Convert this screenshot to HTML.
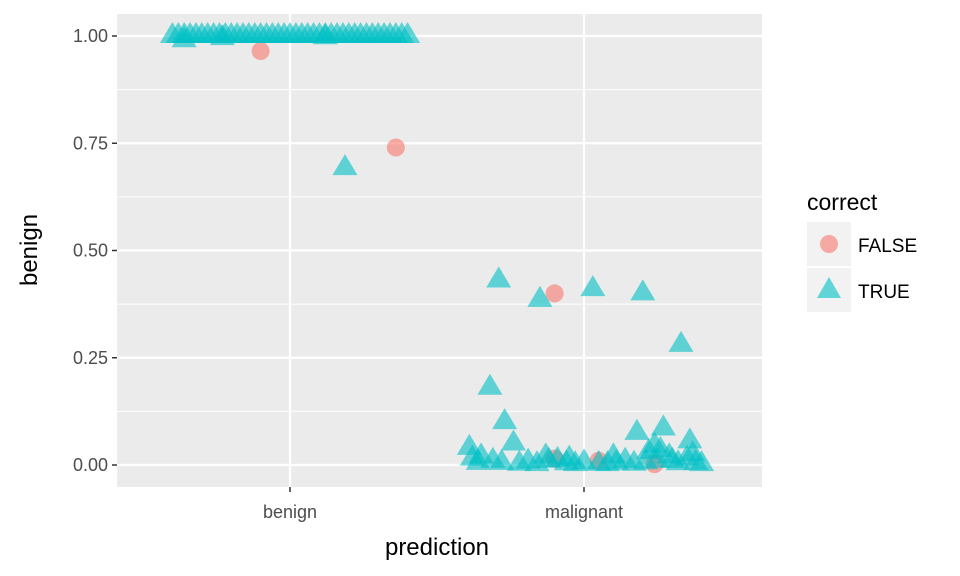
<!DOCTYPE html>
<html><head><meta charset="utf-8"><style>
body{margin:0;background:#fff}
svg{display:block;font-family:"Liberation Sans",sans-serif}
</style></head><body>
<svg id="chart" width="960" height="576" viewBox="0 0 960 576">
<rect x="117" y="14" width="645" height="473" fill="#ebebeb"/>
<g id="grid"></g>
<g id="marks"></g>
<g id="axes"></g>
<text x="437" y="555" font-size="24" text-anchor="middle" fill="#000">prediction</text>
<text transform="translate(37,250) rotate(-90)" font-size="24" text-anchor="middle" fill="#000">benign</text>
<g>
<text x="807" y="210" font-size="23" fill="#000">correct</text>
<rect x="807" y="222" width="44" height="44" fill="#f2f2f2"/>
<circle cx="829" cy="244" r="9" fill="#f8766d" fill-opacity="0.6"/>
<text x="858" y="252" font-size="19" fill="#000">FALSE</text>
<rect x="807" y="268" width="44" height="44" fill="#f2f2f2"/>
<polygon points="829,277 841,298 817,298" fill="#00bfc4" fill-opacity="0.6"/>
<text x="858" y="298" font-size="19" fill="#000">TRUE</text>
</g>
</svg>
<script>
const categories=["benign","malignant"];
const yTicks=[0,0.25,0.5,0.75,1];
const yTickLabels=["0.00","0.25","0.50","0.75","1.00"];
const benTrueX=[-0.40,-0.38,-0.36,-0.34,-0.32,-0.30,-0.28,-0.26,-0.24,-0.22,-0.20,-0.18,-0.16,-0.14,-0.12,-0.10,-0.08,-0.06,-0.04,-0.02,0.00,0.02,0.04,0.06,0.08,0.10,0.12,0.14,0.16,0.18,0.20,0.22,0.24,0.26,0.28,0.30,0.32,0.34,0.36,0.38,0.40,-0.36,-0.23,0.187,0.12];
const benTrueY=[1,1,1,1,1,1,1,1,1,1,1,1,1,1,1,1,1,1,1,1,1,1,1,1,1,1,1,1,1,1,1,1,1,1,1,1,1,1,1,1,1,0.99,0.995,0.692,0.997];
const benFalseX=[-0.10,0.36];
const benFalseY=[0.965,0.74];
const malTrueX=[-0.29,-0.15,0.03,0.20,0.33,-0.32,-0.27,-0.24,-0.39,0.18,0.27,0.36,0.24,-0.38,-0.35,-0.31,-0.28,-0.22,-0.19,-0.16,-0.12,-0.09,-0.06,-0.03,0.00,0.05,0.08,0.11,0.14,0.17,0.21,0.25,0.29,0.32,0.35,0.38,0.40,-0.13,-0.05,0.10,0.22,0.30,0.37,-0.36,0.26];
const malTrueY=[0.43,0.385,0.41,0.40,0.28,0.18,0.10,0.05,0.04,0.075,0.085,0.055,0.045,0.015,0.02,0.01,0.005,0.003,0.008,0.002,0.01,0.012,0.004,0.002,0.006,0.003,0.002,0.005,0.01,0.003,0.006,0.01,0.02,0.004,0.015,0.005,0.002,0.02,0.015,0.02,0.03,0.01,0.025,0.005,0.035];
const malFalseX=[-0.10,-0.10,0.05,0.24];
const malFalseY=[0.40,0.015,0.01,0.002];

const NS="http://www.w3.org/2000/svg";
const xPos=i=>290+i*294;
const xs=(c,j)=>xPos(c)+j*294;
const ys=v=>465-v*429;
const grid=document.getElementById('grid'),marks=document.getElementById('marks'),axes=document.getElementById('axes');
function mk(tag,attrs,parent){const e=document.createElementNS(NS,tag);for(const k in attrs)e.setAttribute(k,attrs[k]);parent.appendChild(e);return e;}
for(let i=0;i<yTicks.length-1;i++){const l=mk('line',{x1:117,x2:762,y1:ys((yTicks[i]+yTicks[i+1])/2),y2:ys((yTicks[i]+yTicks[i+1])/2),stroke:'#fff','stroke-width':1},grid);

}
yTicks.forEach((t,i)=>{const l=mk('line',{x1:117,x2:762,y1:ys(t),y2:ys(t),stroke:'#fff','stroke-width':2.2},grid);


const tk=mk('line',{x1:112,x2:117,y1:ys(t),y2:ys(t),stroke:'#333','stroke-width':1.5},axes);


const tx=mk('text',{x:108,y:ys(t)+6,'font-size':18,'text-anchor':'end',fill:'#4d4d4d'},axes);tx.textContent=yTickLabels[i];

});
categories.forEach((c,i)=>{const l=mk('line',{x1:xPos(i),x2:xPos(i),y1:14,y2:487,stroke:'#fff','stroke-width':2.2},grid);


const tk=mk('line',{x1:xPos(i),x2:xPos(i),y1:487,y2:492,stroke:'#333','stroke-width':1.5},axes);


const tx=mk('text',{x:xPos(i),y:518,'font-size':18,'text-anchor':'middle',fill:'#4d4d4d'},axes);tx.textContent=c;

});
function circles(c,X,Y){X.forEach((j,k)=>{const e=mk('circle',{cx:xs(c,j),cy:ys(Y[k]),r:9,fill:'#f8766d','fill-opacity':0.6},marks);

});}
function tris(c,X,Y){X.forEach((j,k)=>{const x=xs(c,j),y=ys(Y[k]);const e=mk('polygon',{points:`${x},${y-14} ${x+12.5},${y+7} ${x-12.5},${y+7}`,fill:'#00bfc4','fill-opacity':0.6},marks);

});}
circles(0,benFalseX,benFalseY);circles(1,malFalseX,malFalseY);
tris(0,benTrueX,benTrueY);tris(1,malTrueX,malTrueY);
</script>
</body></html>
